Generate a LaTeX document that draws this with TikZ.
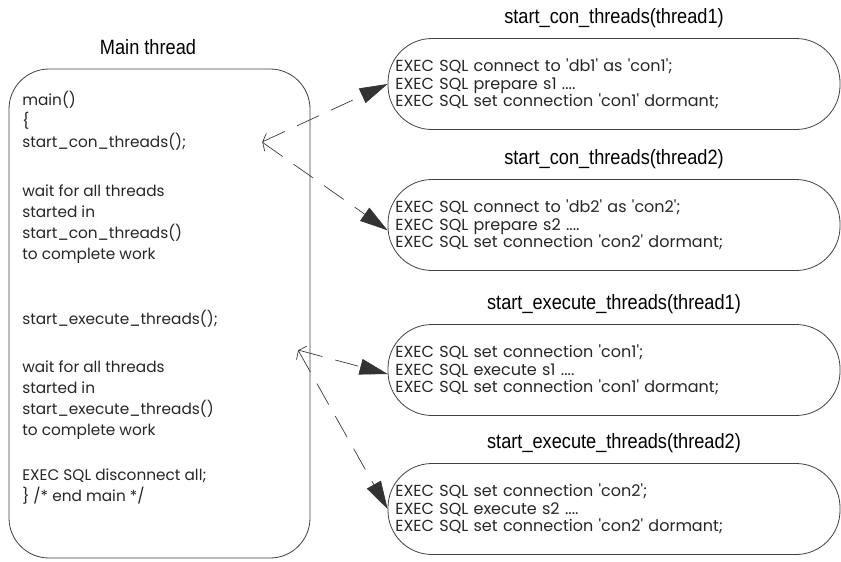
\documentclass[tikz,border=0pt]{standalone}
\usepackage{fontspec}
\usepackage{graphicx}
\setmainfont{Poppins}
\newfontfamily\titlefont{Liberation Sans}
\usetikzlibrary{positioning,arrows.meta}
\newcommand{\q}{\textquotesingle}
\newcommand{\ttlx}[1]{\scalebox{0.88}[1]{#1}}
\tikzset{
  mainbox/.style = {draw=black!75, line width=0.6pt, rounded corners=30pt,
                    minimum width=225.75pt, minimum height=366.75pt},
  thr/.style     = {draw=black!75, line width=0.6pt, rounded corners=33pt,
                    minimum width=339pt, minimum height=68.25pt,
                    text width=328pt, align=left, inner xsep=5.5pt,
                    text=black!85, font=\fontsize{12}{13.2}\selectfont},
  ttl/.style     = {font=\titlefont\fontsize{15.5}{17}\selectfont},
  code/.style    = {align=left, inner sep=0pt, text=black!85,
                    font=\fontsize{11.5}{15.75}\selectfont},
  dsh/.style     = {draw=black!80, line width=0.5pt,
                    dash pattern=on 18pt off 10pt},
  head/.tip      = {Triangle[length=21pt,width=12pt]},
}
\begin{document}
\begin{tikzpicture}[x=0.75pt,y=-0.75pt]
\useasboundingbox (0,0) rectangle (841,561);

\node[ttl] (mt) at (148,47) {\ttlx{Main thread}};
\node[mainbox] (main) at (159.5,313.5) {};
\node[code, anchor=north west] (mcode) at (22,91)
     {main()\\
      \{\\
      start\_con\_threads();\\[21pt]
      wait for all threads\\
      started in\\
      start\_con\_threads()\\
      to complete work\\[33pt]
      start\_execute\_threads();\\[20pt]
      wait for all threads\\
      started in\\
      start\_execute\_threads()\\
      to complete work\\[18pt]
      EXEC SQL disconnect all;\\
      \} /* end main */};

\node[thr] (c1) at (614,84)
     {EXEC SQL connect to \q db1\q{} as \q con1\q;\\
      EXEC SQL prepare s1 ....\\
      EXEC SQL set connection \q con1\q{} dormant;};
\node[thr] (c2) at (614,225)
     {EXEC SQL connect to \q db2\q{} as \q con2\q;\\
      EXEC SQL prepare s2 ....\\
      EXEC SQL set connection \q con2\q{} dormant;};
\node[thr] (e1) at (614,370)
     {EXEC SQL set connection \q con1\q;\\
      EXEC SQL execute s1 ....\\
      EXEC SQL set connection \q con1\q{} dormant;};
\node[thr] (e2) at (614,509)
     {EXEC SQL set connection \q con2\q;\\
      EXEC SQL execute s2 ....\\
      EXEC SQL set connection \q con2\q{} dormant;};

\node[ttl, above=4pt of c1] (t1) {\ttlx{start\_con\_threads(thread1)}};
\node[ttl, above=4pt of c2] (t2) {\ttlx{start\_con\_threads(thread2)}};
\node[ttl, above=4pt of e1] (t3) {\ttlx{start\_execute\_threads(thread1)}};
\node[ttl, above=4pt of e2] (t4) {\ttlx{start\_execute\_threads(thread2)}};

% tails of the dashed links
\coordinate (ta) at (262,142);
\coordinate (tb) at (298,350);

\draw[dsh, {Straight Barb[length=5pt,width=9pt,right]}-head]
     (ta) -- (c1.west);
\draw[dsh, {Straight Barb[length=5pt,width=9pt,left]}-head]
     (ta) -- ([yshift=-4pt]c2.west);
\draw[dsh, {Straight Barb[length=5pt,width=9pt,right]}-head]
     (tb) -- ([yshift=-3pt]e1.west);
\draw[dsh, {Straight Barb[length=5pt,width=9pt,left]}-head]
     (tb) -- (e2.west);
\end{tikzpicture}
\end{document}
